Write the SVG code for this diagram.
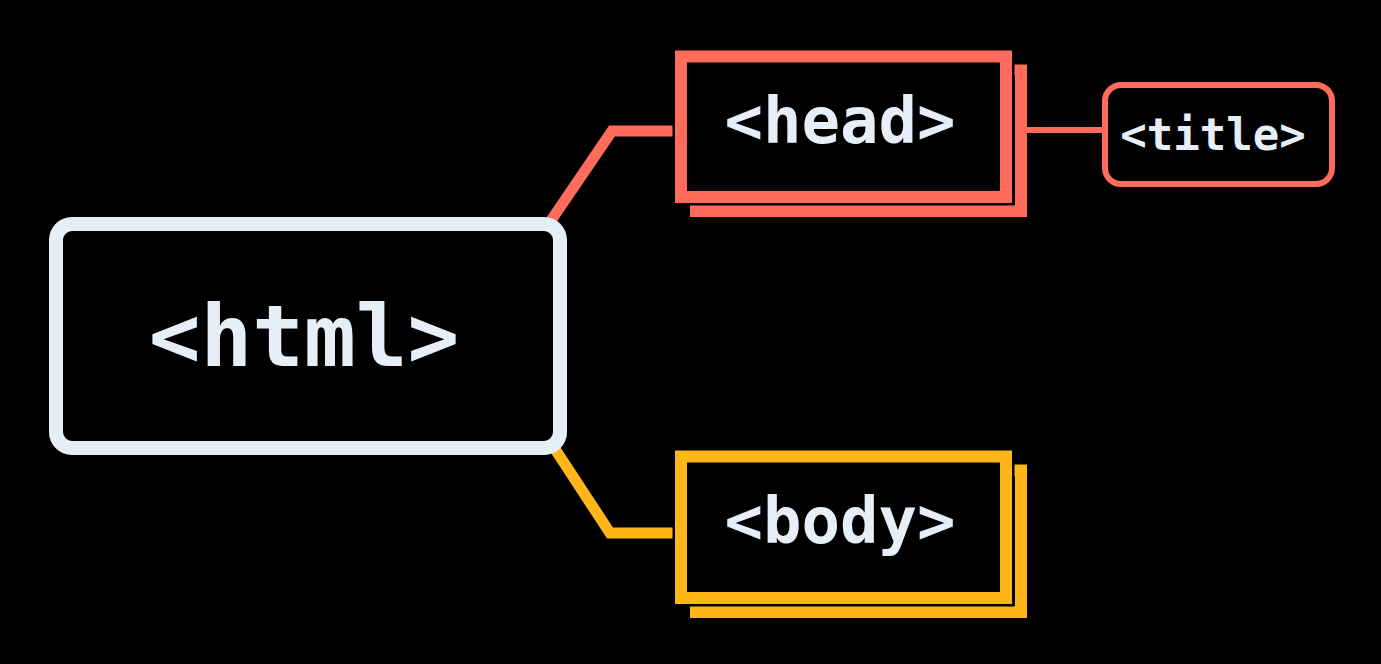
<svg xmlns="http://www.w3.org/2000/svg" width="1381" height="664" viewBox="0 0 1381 664">
  <style>
    .lbl { font-family: "DejaVu Sans Mono", "Liberation Mono", monospace; font-weight: bold; fill: #E6EEF8; text-anchor: middle; }
    .red { stroke: #FF6C5C; }
    .org { stroke: #FFB619; }
    .gap { fill: #000; stroke: #000; stroke-width: 17; }
    .frame { fill: #000; stroke-width: 12; }
    .conn { fill: none; stroke-linejoin: miter; }
  </style>
  <rect x="0" y="0" width="1381" height="664" fill="#000"/>
  <g id="connectors">
    <path class="conn red" d="M550,222 L612,131 L680,131" stroke-width="11"/>
    <path class="conn org" d="M553,446 L610,533 L680,533" stroke-width="11"/>
    <path class="conn red" d="M1025,130 L1108,130" stroke-width="6"/>
  </g>
  <g id="html">
    <rect x="56" y="224" width="504" height="224" rx="16" fill="#000" stroke="#E6EEF8" stroke-width="14"/>
    <text class="lbl" x="304" y="366" font-size="86">&lt;html&gt;</text>
  </g>
  <g id="head">
    <rect class="frame red" x="696" y="70.5" width="325" height="140.5"/>
    <rect class="gap" x="681" y="56.5" width="325" height="140.5"/>
    <rect class="frame red" x="681" y="56.5" width="325" height="140.5"/>
    <text class="lbl" x="840" y="143" font-size="64">&lt;head&gt;</text>
  </g>
  <g id="title">
    <rect x="1105" y="85" width="227" height="99" rx="16" fill="#000" stroke="#FF6C5C" stroke-width="6"/>
    <text class="lbl" x="1213" y="150" font-size="44">&lt;title&gt;</text>
  </g>
  <g id="body">
    <rect class="frame org" x="696" y="470.5" width="325" height="141.5"/>
    <rect class="gap" x="681" y="456.5" width="325" height="141.5"/>
    <rect class="frame org" x="681" y="456.5" width="325" height="141.5"/>
    <text class="lbl" x="840" y="543" font-size="64">&lt;body&gt;</text>
  </g>
</svg>
